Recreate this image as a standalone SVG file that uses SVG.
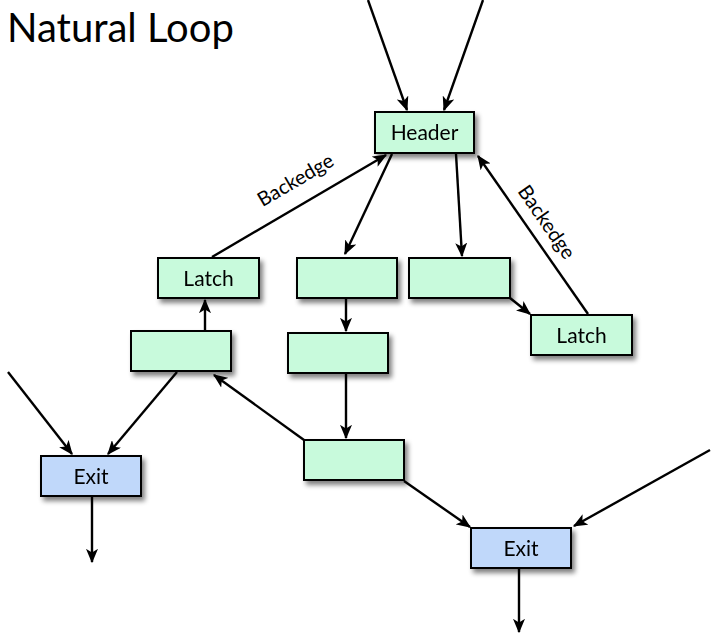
<svg xmlns="http://www.w3.org/2000/svg" width="717" height="640" viewBox="0 0 717 640">
<style>
.t{font-family:Lato,"Open Sans","DejaVu Sans",sans-serif;fill:#000}
.g rect{fill:#c8fadc;stroke:#000;stroke-width:2}
.b rect{fill:#c0d8fa;stroke:#000;stroke-width:2}
.n text{font-family:Lato,"Open Sans","DejaVu Sans",sans-serif;font-size:21px;text-anchor:middle}
#edges line{stroke:#000;stroke-width:2.4;marker-end:url(#ah)}
</style>
<defs>
<marker id="ah" viewBox="0 0 12 10" refX="11" refY="5" markerWidth="6" markerHeight="5" orient="auto" markerUnits="strokeWidth"><path d="M0,0 L12,5 L0,10 L3,5 z" fill="#000"/></marker>
<filter id="sh" x="-20%" y="-20%" width="150%" height="160%"><feGaussianBlur in="SourceAlpha" stdDeviation="2.5"/><feOffset dx="3" dy="4"/><feComponentTransfer><feFuncA type="linear" slope="0.5"/></feComponentTransfer><feMerge><feMergeNode/><feMergeNode in="SourceGraphic"/></feMerge></filter>
</defs>
<rect width="717" height="640" fill="#fff"/>
<text class="t" x="7" y="42" font-size="40">Natural Loop</text>
<g id="edges">
<line x1="368" y1="0" x2="407" y2="110"/>
<line x1="483" y1="0" x2="444" y2="110"/>
<line x1="212" y1="257" x2="386" y2="155"/>
<line x1="392" y1="154" x2="345" y2="254"/>
<line x1="456" y1="154" x2="462" y2="256"/>
<line x1="588" y1="314" x2="478" y2="156"/>
<line x1="510" y1="298" x2="530" y2="314"/>
<line x1="205" y1="331" x2="205" y2="300"/>
<line x1="346" y1="299" x2="346" y2="331"/>
<line x1="346" y1="374" x2="346" y2="438"/>
<line x1="304" y1="440" x2="214" y2="375"/>
<line x1="177" y1="372" x2="108" y2="454"/>
<line x1="8" y1="372" x2="72" y2="454"/>
<line x1="92" y1="497" x2="92" y2="562"/>
<line x1="404" y1="481" x2="470" y2="527"/>
<line x1="710" y1="450" x2="574" y2="526"/>
<line x1="519" y1="569" x2="519" y2="632"/>
</g>
<text class="t" font-size="20" text-anchor="middle" transform="translate(299,186) rotate(-30.4)">Backedge</text>
<text class="t" font-size="20" text-anchor="middle" transform="translate(541,226) rotate(55.2)">Backedge</text>
<g id="header" class="n g" filter="url(#sh)"><rect x="375" y="112" width="99" height="41"/><text x="424.5" y="140">Header</text></g>
<g id="latch1" class="n g" filter="url(#sh)"><rect x="158" y="258" width="101" height="40"/><text x="208.5" y="286">Latch</text></g>
<g id="b1" class="n g" filter="url(#sh)"><rect x="297" y="258" width="100" height="40"/></g>
<g id="b2" class="n g" filter="url(#sh)"><rect x="409" y="258" width="101" height="40"/></g>
<g id="latch2" class="n g" filter="url(#sh)"><rect x="531" y="315" width="101" height="40"/><text x="581.5" y="343">Latch</text></g>
<g id="b3" class="n g" filter="url(#sh)"><rect x="131" y="331" width="100" height="40"/></g>
<g id="b4" class="n g" filter="url(#sh)"><rect x="288" y="333" width="100" height="40"/></g>
<g id="b5" class="n g" filter="url(#sh)"><rect x="304" y="440" width="100" height="40"/></g>
<g id="exit1" class="n b" filter="url(#sh)"><rect x="41" y="456" width="100" height="40"/><text x="91" y="484">Exit</text></g>
<g id="exit2" class="n b" filter="url(#sh)"><rect x="471" y="528" width="100" height="40"/><text x="521" y="556">Exit</text></g>
</svg>
